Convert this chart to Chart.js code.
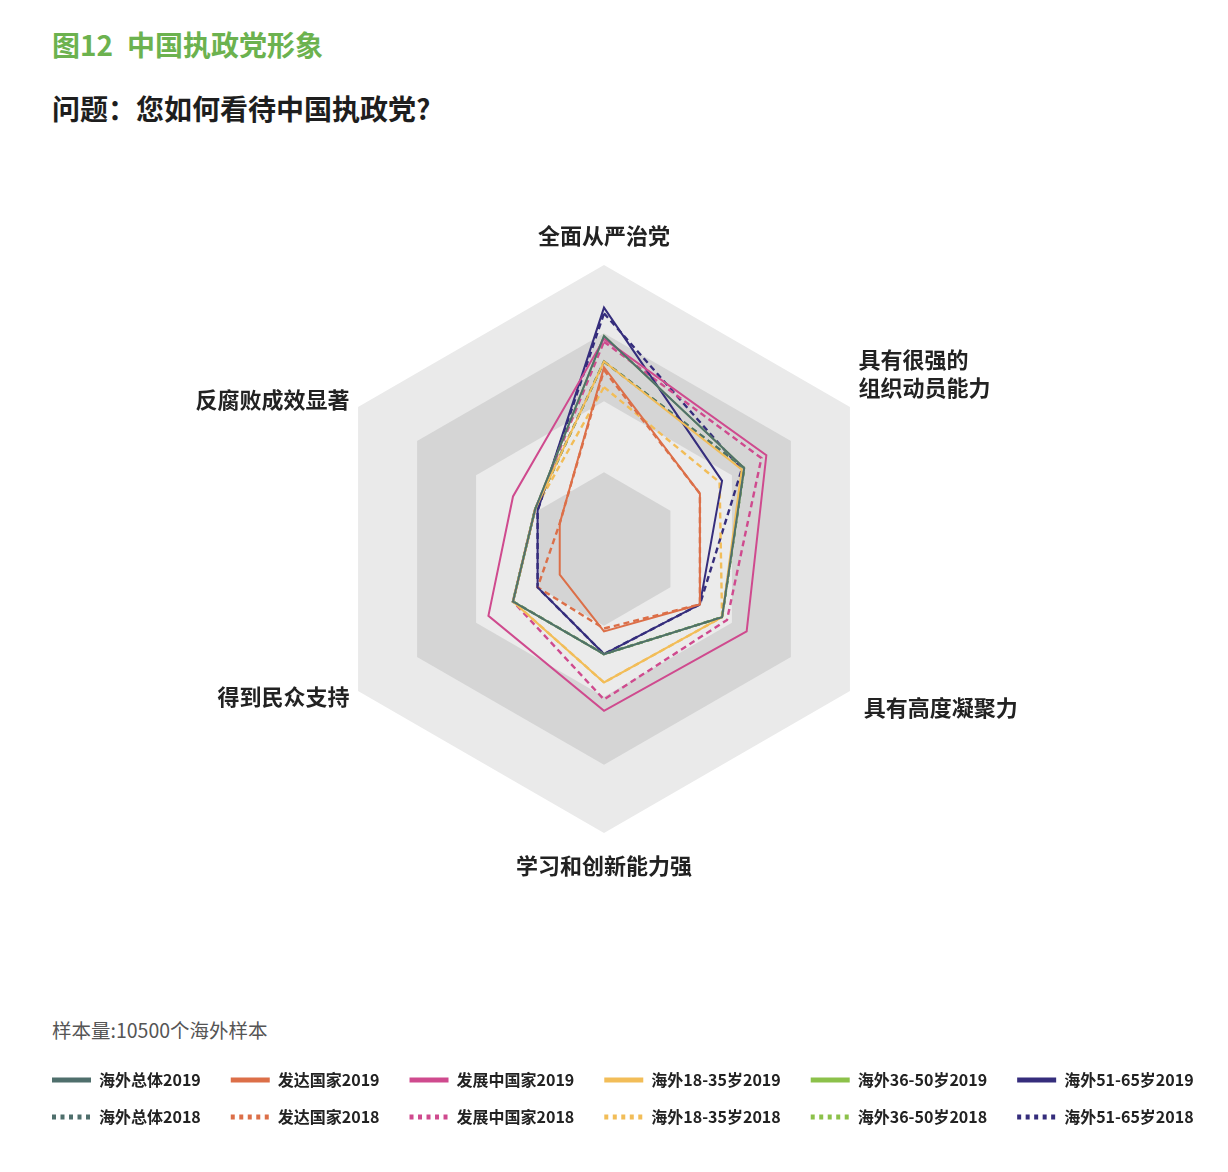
<!DOCTYPE html>
<html>
<head>
<meta charset="utf-8">
<script src="https://cdn.jsdelivr.net/npm/chart.js@4"></script>
<style>
  html, body { margin: 0; padding: 0; background: #ffffff; width: 1228px; height: 1172px; overflow: hidden; position: relative; }
  .txt { position: absolute; white-space: nowrap; font-family: "Noto Sans CJK SC", "Noto Sans", sans-serif; }
  #fig { left: 52px; top: 30px; font-size: 28px; line-height: 28px; font-weight: bold; color: #6cb24f; }
  #q { left: 52px; top: 94px; font-size: 28px; line-height: 28px; font-weight: bold; color: #1e1e1e; }
  #note { left: 52px; top: 1020px; font-size: 19.5px; line-height: 20px; font-weight: 400; color: #555555; }
  #wrap { position: absolute; left: 0; top: 0; width: 1300px; height: 1172px; }
</style>
</head>
<body>
<div class="txt" id="fig">图12&ensp;中国执政党形象</div>
<div class="txt" id="q">问题：您如何看待中国执政党?</div>
<div class="txt" id="note">样本量:10500个海外样本</div>
<div id="wrap"><canvas id="c" width="1300" height="1172"></canvas></div>
<script>
// ---------------- data ----------------
const categories = ['全面从严治党', ['具有很强的', '组织动员能力'], '具有高度凝聚力', '学习和创新能力强', '得到民众支持', '反腐败成效显著'];

const seriesNames2019 = ['海外总体2019', '发达国家2019', '发展中国家2019', '海外18-35岁2019', '海外36-50岁2019', '海外51-65岁2019'];
const seriesNames2018 = ['海外总体2018', '发达国家2018', '发展中国家2018', '海外18-35岁2018', '海外36-50岁2018', '海外51-65岁2018'];

const total2019      = [75, 57, 48, 37, 37, 28];
const developed2019  = [64, 39, 39, 29, 18, 18];
const developing2019 = [74, 66, 58, 57, 47, 37];
const age18to35_2019 = [66, 56, 48, 47, 37, 28];
const age36to50_2019 = [75, 57, 48, 37, 37, 28];
const age51to65_2019 = [85, 48, 39, 37, 27, 27];

const total2018      = [66, 57, 48, 37, 37, 28];
const developed2018  = [63, 39, 39, 28, 27, 18];
const developing2018 = [73, 64, 50, 53, 37, 28];
const age18to35_2018 = [57, 47, 48, 47, 37, 28];
const age36to50_2018 = [66, 57, 48, 37, 37, 28];
const age51to65_2018 = [83, 56, 39, 37, 27, 27];

// background rings (values on the same radial scale)
const ringValues = [100, 76, 52, 27];

// ---------------- styles ----------------
const seriesColors = ['#4f6f6c', '#dc6f48', '#cf4a8e', '#f2bd58', '#8cc14a', '#352d7c'];
const ringColors = ['#eaeaea', '#d5d5d5', '#ebebeb', '#d4d4d4'];
const RADAR_CX = 604, RADAR_CY = 549, RADAR_R = 284;
const labelPadding = [15, 10, 16, 19, 10, 10];
const labelLineHeight = [1.27, 1.27, 0.82, 1.27, 0.1, 0.2];

const values2019 = [total2019, developed2019, developing2019, age18to35_2019, age36to50_2019, age51to65_2019];
const values2018 = [total2018, developed2018, developing2018, age18to35_2018, age36to50_2018, age51to65_2018];

const datasets = [];
values2019.forEach((v, i) => datasets.push({
  label: seriesNames2019[i], data: v, borderColor: seriesColors[i], backgroundColor: seriesColors[i],
  borderWidth: 2, fill: false, pointRadius: 0, pointHoverRadius: 0, tension: 0
}));
values2018.forEach((v, i) => datasets.push({
  label: seriesNames2018[i], data: v, borderColor: seriesColors[i], backgroundColor: seriesColors[i],
  borderWidth: 2.4, borderDash: [6, 4], fill: false, pointRadius: 0, pointHoverRadius: 0, tension: 0
}));

const ringsPlugin = {
  id: 'rings',
  beforeDatasetsDraw(chart) {
    const s = chart.scales.r;
    const ctx = chart.ctx;
    const n = chart.data.labels.length;
    ctx.save();
    ringValues.forEach((val, k) => {
      ctx.beginPath();
      for (let i = 0; i < n; i++) {
        const p = s.getPointPositionForValue(i, val);
        if (i === 0) ctx.moveTo(p.x, p.y); else ctx.lineTo(p.x, p.y);
      }
      ctx.closePath();
      ctx.fillStyle = ringColors[k];
      ctx.fill();
    });
    ctx.restore();
  }
};

new Chart(document.getElementById('c'), {
  type: 'radar',
  data: { labels: categories, datasets: datasets },
  plugins: [ringsPlugin],
  options: {
    responsive: false,
    animation: false,
    devicePixelRatio: 1,
    layout: { padding: { left: 31, top: 200, right: 0, bottom: 37 } },
    plugins: {
      tooltip: { enabled: false },
      legend: {
        position: 'bottom',
        align: 'start',
        labels: {
          usePointStyle: true,
          pointStyleWidth: 39,
          padding: 21,
          color: '#222222',
          font: { family: '"Noto Sans CJK SC", sans-serif', size: 16, weight: 'bold' },
          generateLabels(chart) {
            return chart.data.datasets.map((ds, i) => ({
              text: ds.label + '\u2002\u200A',
              fillStyle: ds.borderColor,
              strokeStyle: ds.borderColor,
              lineWidth: 5,
              lineDash: ds.borderDash ? [4, 4.5] : [],
              lineCap: 'butt',
              pointStyle: 'line',
              hidden: !chart.isDatasetVisible(i),
              datasetIndex: i,
              fontColor: '#222222'
            }));
          }
        }
      }
    },
    scales: {
      r: {
        min: 0, max: 100, startAngle: 0,
        ticks: { display: false, stepSize: 25 },
        grid: { display: false },
        angleLines: { display: false },
        pointLabels: {
          color: '#222222',
          font: (ctx) => ({ family: '"Noto Sans CJK SC", sans-serif', size: 22, weight: 'bold', lineHeight: labelLineHeight[ctx.index] }),
          padding: (ctx) => labelPadding[ctx.index]
        },
        afterSetDimensions(scale) {
          scale.xCenter = RADAR_CX;
          scale.yCenter = RADAR_CY;
          scale.drawingArea = RADAR_R;
        }
      }
    }
  }
});
</script>
</body>
</html>
